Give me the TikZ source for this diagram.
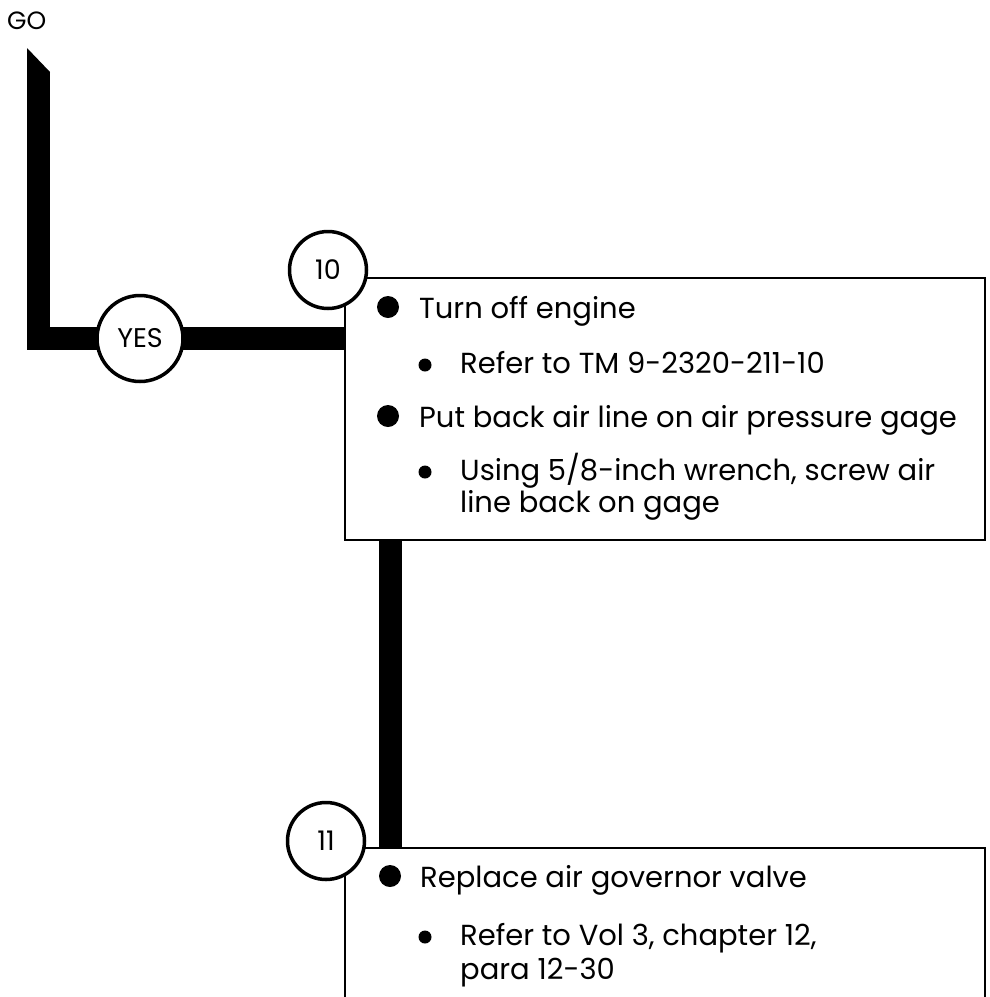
\documentclass[tikz,border=0pt]{standalone}
\usepackage{fontspec}
\setmainfont{Poppins}
\begin{document}
\begin{tikzpicture}[x=1pt, y=-1pt,
  flow/.style = {line width=23pt},
  num/.style = {circle, draw, line width=3.5pt, fill=white, minimum size=77pt, inner sep=0pt, font=\fontsize{27}{27}\selectfont},
  stepbox/.style = {draw, line width=2.5pt, rectangle, inner sep=0pt},
  txt/.style = {anchor=base west, inner sep=0pt, font=\fontsize{29}{29}\selectfont},
  bigdot/.style = {circle, fill, minimum size=22pt, inner sep=0pt},
  smalldot/.style = {circle, fill, minimum size=13pt, inner sep=0pt}]

	\useasboundingbox (0,0) rectangle (990,997);

	\coordinate (start) at (38.5, 72);
	\coordinate (c-yes) at (140, 338.5);
	\coordinate (c-10) at (328, 270);
	\coordinate (c-11) at (326, 841);

	\node[txt, font=\fontsize{25}{25}\selectfont] (go) at (7, 29) {GO};

	% the two steps
	\node[stepbox, minimum width=640pt, minimum height=262pt] (box10) at (665, 409) {};
	\node[stepbox, minimum width=640pt, minimum height=212pt] (box11) at (665, 954) {};

	% thick flow line
	\fill (start) ++(-11.5, 0) -- ++(0, -24) -- ++(23, 24) -- cycle;
	\draw[flow] (start) |- (c-yes) -- (c-yes -| box10.west);
	\draw[flow] ([xshift=46.5pt]box10.south west) -- ([xshift=46.5pt]box11.north west);

	\node[num, minimum size=86pt] (yes) at (c-yes) {YES};
	\node[num] (n10) at (c-10) {10};
	\node[num] (n11) at (c-11) {11};

	% text of step 10
	\node[bigdot] (d1) at (388, 307) {};
	\node[txt] (t1) at (419, 318) {Turn off engine};
	\node[smalldot] (d2) at (425, 365) {};
	\node[txt] (t2) at (460, 373) {Refer to TM 9-2320-211-10};
	\node[bigdot] (d3) at (388, 416) {};
	\node[txt] (t3) at (419, 427) {Put back air line on air pressure gage};
	\node[smalldot] (d4) at (425, 472) {};
	\node[txt] (t4) at (460, 480) {Using 5/8-inch wrench, screw air};
	\node[txt] (t5) at (460, 512) {line back on gage};

	% text of step 11
	\node[bigdot] (d5) at (390, 876) {};
	\node[txt] (t6) at (420, 887) {Replace air governor valve};
	\node[smalldot] (d6) at (425, 937) {};
	\node[txt] (t7) at (460, 945) {Refer to Vol 3, chapter 12,};
	\node[txt] (t8) at (460, 979) {para 12-30};

\end{tikzpicture}
\end{document}
